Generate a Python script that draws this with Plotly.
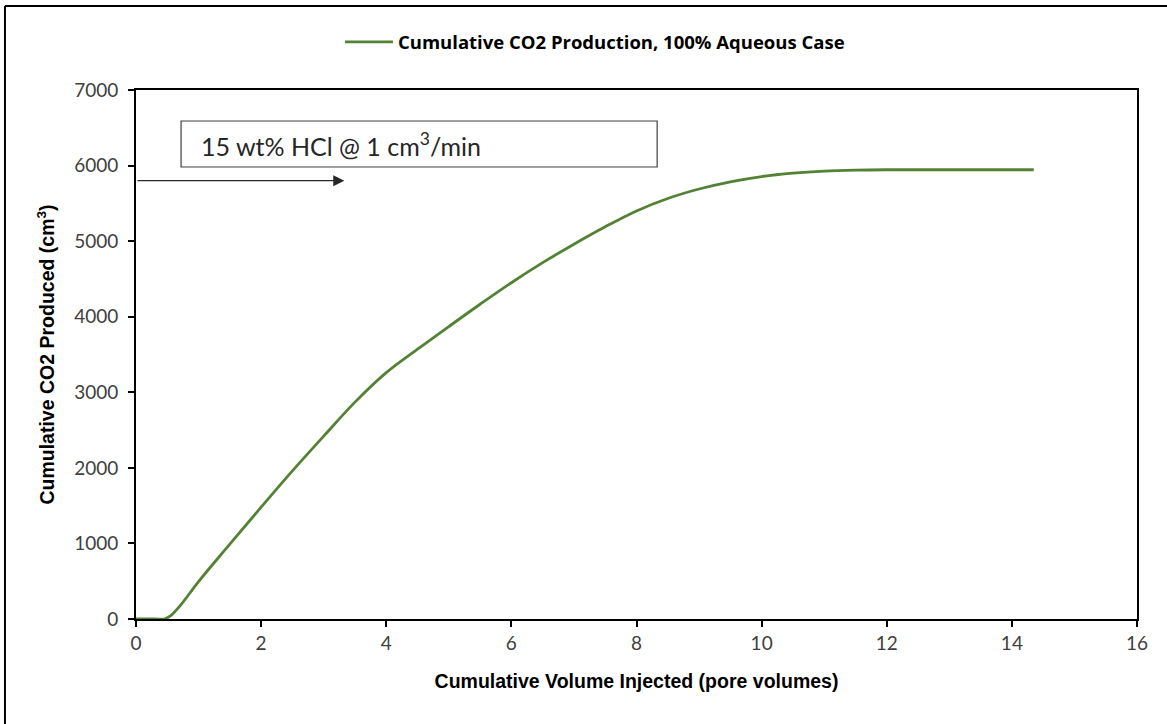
import plotly.graph_objects as go

# Cumulative CO2 production vs. pore volumes injected (100% aqueous case)
pore_volumes = [0.0, 0.3, 0.45, 0.55, 0.7, 1.0, 1.5, 2.0, 2.5, 3.0, 3.5, 4.0, 4.5,
                5.0, 5.5, 6.0, 6.5, 7.0, 7.5, 8.0, 8.5, 9.0, 9.5, 10.0, 10.5,
                11.0, 11.5, 12.0, 13.0, 14.35]
co2_produced = [0, 0, 0, 40, 170, 495, 990, 1480, 1960, 2420, 2870, 3260, 3570,
                3870, 4165, 4450, 4715, 4960, 5190, 5400, 5565, 5690, 5785, 5855,
                5900, 5927, 5940, 5945, 5945, 5945]

series_name = "Cumulative CO2 Production, 100% Aqueous Case"
x_ticks = [0, 2, 4, 6, 8, 10, 12, 14, 16]
y_ticks = [0, 1000, 2000, 3000, 4000, 5000, 6000, 7000]

GREEN = "#548235"
TICK_FONT = dict(family="Lato, Open Sans, sans-serif", size=19, color="#404040")
TITLE_FONT = dict(family="Liberation Sans, Arial, sans-serif", size=19.5,
                  color="black", weight="bold")

fig = go.Figure()
fig.add_trace(go.Scatter(
    x=pore_volumes, y=co2_produced, mode="lines", name=series_name,
    line=dict(color=GREEN, width=2.8, shape="spline", smoothing=1.0),
))

axis_common = dict(
    showgrid=False, zeroline=False, showline=True, linecolor="black", linewidth=1.6,
    mirror=True, ticks="outside", ticklen=6, tickwidth=1.6, tickcolor="black",
    tickfont=TICK_FONT,
)

fig.update_xaxes(
    range=[0, 16], tickvals=x_ticks, **axis_common,
    title=dict(text="Cumulative Volume Injected (pore volumes)", standoff=22,
               font=TITLE_FONT),
)
fig.update_yaxes(
    range=[0, 7000], tickvals=y_ticks, ticklabelstandoff=6, **axis_common,
    title=dict(text="Cumulative CO2 Produced (cm<sup>3</sup>)", standoff=14,
               font=TITLE_FONT),
)

# Injection annotation: boxed label with an arrow along the injection direction
fig.add_shape(type="rect", xref="x", yref="y", x0=0.72, x1=8.33, y0=5981, y1=6590,
              line=dict(color="#404040", width=1.2), fillcolor="white")
fig.add_annotation(x=1.0, y=6285, xref="x", yref="y", xanchor="left",
                   text="15 wt% HCl @ 1 cm<sup>3</sup>/min", showarrow=False,
                   font=dict(family="Lato, Open Sans, sans-serif", size=25, color="#262626"))
fig.add_annotation(x=3.33, y=5800, ax=0.0, ay=5800, xref="x", yref="y",
                   axref="x", ayref="y", text="", showarrow=True,
                   arrowhead=2, arrowsize=1.7, arrowwidth=1.3, arrowcolor="#262626")

# Outer chart frame (left and top edges visible)
fig.add_shape(type="line", xref="paper", yref="paper", x0=-0.1309, x1=-0.1309,
              y0=1.1588, y1=-0.25, line=dict(color="black", width=2))
fig.add_shape(type="line", xref="paper", yref="paper", x0=-0.1309, x1=1.1,
              y0=1.1588, y1=1.1588, line=dict(color="black", width=2))

fig.update_layout(
    width=1167, height=724,
    margin=dict(l=136, r=30, t=90, b=105),
    paper_bgcolor="white", plot_bgcolor="white",
    showlegend=True,
    legend=dict(orientation="h", x=0.4585, xanchor="center", y=1.09, yanchor="middle",
                font=dict(family="Open Sans, sans-serif", size=18.5,
                          color="black", weight="bold"),
                itemwidth=48, bgcolor="rgba(0,0,0,0)"),
)

fig.write_html("out.html")
